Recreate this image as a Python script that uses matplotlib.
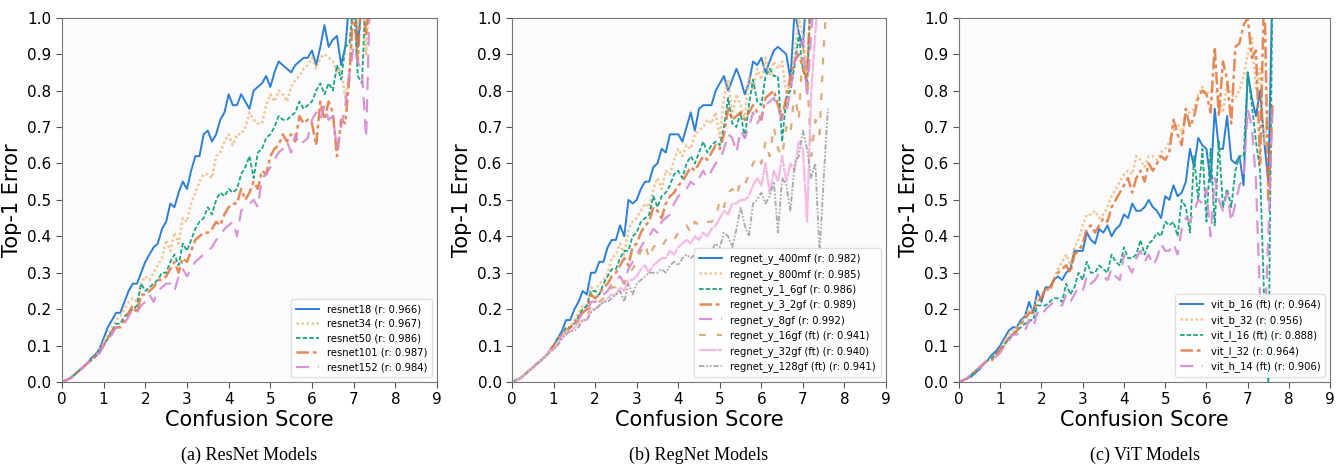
import numpy as np
import matplotlib.pyplot as plt

# confusion score bins (0.0, 0.1, ... 7.6)
score_bins = np.round(np.arange(0, 77) * 0.1, 1)

head = [0.0, 0.005, 0.01, 0.02, 0.03, 0.04, 0.05, 0.06, 0.07, 0.085]

# ---- (a) ResNet ----
resnet18 = head[:7] + [0.065, 0.075, 0.09,
    0.12, 0.15, 0.17, 0.19, 0.19, 0.22, 0.25, 0.27, 0.27, 0.30,
    0.33, 0.35, 0.37, 0.38, 0.42, 0.44, 0.49, 0.48, 0.52, 0.55,
    0.53, 0.58, 0.62, 0.62, 0.68, 0.69, 0.66, 0.68, 0.72, 0.74,
    0.79, 0.76, 0.76, 0.79, 0.77, 0.75, 0.80, 0.81, 0.82, 0.84,
    0.81, 0.85, 0.88, 0.87, 0.86, 0.85, 0.87, 0.88, 0.89, 0.89,
    0.91, 0.87, 0.92, 0.98, 0.92, 0.94, 0.95, 0.87, 0.92, 1.05,
    1.10, 0.92, 1.05, 1.10]
resnet34 = head + [
    0.11, 0.13, 0.15, 0.17, 0.18, 0.20, 0.22, 0.23, 0.22, 0.27,
    0.29, 0.28, 0.30, 0.32, 0.34, 0.39, 0.36, 0.41, 0.38, 0.45,
    0.44, 0.49, 0.52, 0.55, 0.57, 0.57, 0.56, 0.62, 0.63, 0.66,
    0.68, 0.65, 0.68, 0.68, 0.70, 0.74, 0.72, 0.71, 0.71, 0.76,
    0.79, 0.77, 0.80, 0.79, 0.77, 0.81, 0.83, 0.84, 0.86, 0.87,
    0.89, 0.86, 0.89, 0.90, 0.89, 0.88, 0.85, 0.86, 0.78, 0.85,
    1.05, 0.97, 1.10, 0.90, 1.10]
resnet50 = head + [
    0.10, 0.12, 0.14, 0.16, 0.16, 0.18, 0.19, 0.20, 0.21, 0.27,
    0.25, 0.26, 0.27, 0.28, 0.30, 0.30, 0.33, 0.35, 0.32, 0.38,
    0.36, 0.39, 0.42, 0.44, 0.45, 0.48, 0.46, 0.50, 0.52, 0.51,
    0.53, 0.52, 0.53, 0.57, 0.59, 0.62, 0.56, 0.63, 0.64, 0.67,
    0.68, 0.70, 0.73, 0.72, 0.72, 0.73, 0.74, 0.77, 0.75, 0.76,
    0.77, 0.80, 0.82, 0.79, 0.82, 0.80, 0.87, 0.83, 0.92, 0.93,
    1.05, 0.84, 0.82, 1.10]
resnet101 = head[:9] + [0.08,
    0.10, 0.12, 0.14, 0.15, 0.15, 0.17, 0.19, 0.21, 0.19, 0.24,
    0.24, 0.25, 0.26, 0.28, 0.28, 0.29, 0.31, 0.33, 0.30, 0.34,
    0.33, 0.36, 0.39, 0.40, 0.41, 0.41, 0.42, 0.44, 0.43, 0.46,
    0.48, 0.49, 0.49, 0.53, 0.50, 0.52, 0.55, 0.53, 0.58, 0.57,
    0.62, 0.64, 0.65, 0.68, 0.66, 0.68, 0.66, 0.73, 0.71, 0.72,
    0.71, 0.65, 0.77, 0.72, 0.77, 0.74, 0.62, 0.72, 0.71, 0.84,
    1.05, 0.88, 1.10, 0.95, 1.10]
resnet152 = head[:9] + [0.08,
    0.10, 0.12, 0.13, 0.15, 0.15, 0.16, 0.18, 0.20, 0.19, 0.21,
    0.22, 0.24, 0.22, 0.25, 0.26, 0.27, 0.27, 0.25, 0.29, 0.31,
    0.29, 0.31, 0.33, 0.34, 0.35, 0.36, 0.37, 0.39, 0.40, 0.42,
    0.43, 0.44, 0.40, 0.47, 0.48, 0.49, 0.50, 0.48, 0.56, 0.57,
    0.59, 0.61, 0.63, 0.64, 0.66, 0.63, 0.68, 0.65, 0.66, 0.67,
    0.72, 0.74, 0.72, 0.76, 0.72, 0.73, 0.64, 0.70, 0.76, 0.85,
    0.92, 0.88, 0.85, 0.67, 1.10]

# ---- (b) RegNet ----
regnet_400mf = head + [
    0.10, 0.12, 0.14, 0.17, 0.17, 0.20, 0.22, 0.25, 0.24, 0.30,
    0.30, 0.33, 0.33, 0.37, 0.39, 0.39, 0.43, 0.40, 0.50, 0.49,
    0.50, 0.53, 0.55, 0.55, 0.59, 0.60, 0.64, 0.63, 0.68, 0.68,
    0.68, 0.66, 0.70, 0.74, 0.69, 0.75, 0.76, 0.76, 0.76, 0.80,
    0.82, 0.84, 0.80, 0.83, 0.86, 0.83, 0.79, 0.82, 0.88, 0.87,
    0.89, 0.85, 0.88, 0.91, 0.92, 0.91, 0.90, 0.83, 1.02, 0.96,
    0.92, 1.10, 1.10]
regnet_800mf = head + [
    0.10, 0.12, 0.13, 0.15, 0.15, 0.17, 0.19, 0.21, 0.20, 0.26,
    0.25, 0.27, 0.28, 0.30, 0.34, 0.35, 0.38, 0.35, 0.42, 0.44,
    0.45, 0.47, 0.49, 0.48, 0.53, 0.56, 0.53, 0.58, 0.57, 0.61,
    0.64, 0.62, 0.65, 0.64, 0.68, 0.69, 0.70, 0.72, 0.71, 0.74,
    0.67, 0.78, 0.83, 0.73, 0.79, 0.76, 0.72, 0.84, 0.80, 0.86,
    0.83, 0.89, 0.84, 0.88, 0.86, 0.88, 0.79, 0.82, 0.90, 1.00,
    0.95, 0.85, 1.10, 1.10]
regnet_1_6gf = head + [
    0.10, 0.12, 0.13, 0.15, 0.15, 0.16, 0.18, 0.20, 0.21, 0.25,
    0.25, 0.24, 0.27, 0.29, 0.31, 0.31, 0.34, 0.36, 0.36, 0.40,
    0.41, 0.44, 0.45, 0.46, 0.51, 0.48, 0.51, 0.52, 0.54, 0.57,
    0.58, 0.56, 0.60, 0.62, 0.60, 0.63, 0.66, 0.63, 0.65, 0.66,
    0.65, 0.70, 0.78, 0.71, 0.70, 0.74, 0.67, 0.76, 0.83, 0.77,
    0.76, 0.84, 0.86, 0.84, 0.84, 0.66, 0.78, 0.80, 0.87, 0.95,
    0.86, 0.82, 1.10]
regnet_3_2gf = head + [
    0.10, 0.11, 0.13, 0.14, 0.15, 0.16, 0.18, 0.19, 0.20, 0.24,
    0.23, 0.24, 0.26, 0.27, 0.29, 0.30, 0.32, 0.34, 0.32, 0.37,
    0.38, 0.41, 0.43, 0.44, 0.48, 0.47, 0.45, 0.49, 0.51, 0.52,
    0.54, 0.55, 0.57, 0.59, 0.58, 0.60, 0.62, 0.61, 0.63, 0.65,
    0.64, 0.68, 0.75, 0.72, 0.73, 0.74, 0.72, 0.74, 0.76, 0.74,
    0.72, 0.78, 0.79, 0.80, 0.76, 0.73, 0.78, 0.84, 0.88, 0.90,
    0.86, 0.83, 1.10]
regnet_8gf = head + [
    0.09, 0.11, 0.13, 0.14, 0.14, 0.16, 0.17, 0.19, 0.19, 0.22,
    0.22, 0.23, 0.24, 0.25, 0.27, 0.28, 0.29, 0.27, 0.31, 0.33,
    0.35, 0.37, 0.39, 0.40, 0.42, 0.41, 0.44, 0.45, 0.46, 0.49,
    0.51, 0.52, 0.53, 0.55, 0.54, 0.56, 0.58, 0.56, 0.58, 0.60,
    0.61, 0.64, 0.68, 0.67, 0.63, 0.69, 0.67, 0.70, 0.74, 0.71,
    0.73, 0.76, 0.77, 0.78, 0.75, 0.72, 0.74, 0.80, 0.88, 0.92,
    0.94, 0.78, 0.96, 1.10]
regnet_16gf_ft = head + [
    0.09, 0.11, 0.13, 0.14, 0.14, 0.15, 0.17, 0.18, 0.18, 0.21,
    0.21, 0.22, 0.23, 0.24, 0.26, 0.26, 0.28, 0.27, 0.30, 0.31,
    0.33, 0.36, 0.38, 0.34, 0.37, 0.38, 0.37, 0.39, 0.40, 0.39,
    0.41, 0.42, 0.43, 0.41, 0.44, 0.43, 0.44, 0.44, 0.44, 0.45,
    0.50, 0.48, 0.52, 0.53, 0.51, 0.55, 0.54, 0.57, 0.60, 0.62,
    0.60, 0.66, 0.62, 0.70, 0.64, 0.62, 0.70, 0.68, 0.80, 0.72,
    0.92, 0.85, 0.62, 0.72, 0.68, 0.92, 1.10]
regnet_32gf_ft = head + [
    0.09, 0.11, 0.12, 0.14, 0.14, 0.15, 0.16, 0.17, 0.17, 0.20,
    0.20, 0.21, 0.22, 0.23, 0.24, 0.24, 0.26, 0.25, 0.28, 0.28,
    0.29, 0.31, 0.32, 0.30, 0.32, 0.33, 0.34, 0.34, 0.36, 0.35,
    0.37, 0.38, 0.39, 0.38, 0.40, 0.39, 0.41, 0.40, 0.42, 0.43,
    0.45, 0.47, 0.46, 0.49, 0.49, 0.50, 0.50, 0.51, 0.54, 0.56,
    0.54, 0.60, 0.52, 0.58, 0.55, 0.62, 0.55, 0.60, 0.58, 0.66,
    0.64, 0.44, 0.80, 0.96, 1.10]
regnet_128gf_ft = head[:9] + [0.08,
    0.09, 0.10, 0.12, 0.13, 0.14, 0.14, 0.15, 0.17, 0.17, 0.19,
    0.20, 0.21, 0.22, 0.22, 0.23, 0.24, 0.25, 0.22, 0.27, 0.24,
    0.27, 0.28, 0.29, 0.30, 0.30, 0.30, 0.31, 0.30, 0.32, 0.33,
    0.32, 0.34, 0.35, 0.34, 0.35, 0.36, 0.35, 0.35, 0.36, 0.38,
    0.37, 0.41, 0.40, 0.37, 0.42, 0.48, 0.43, 0.40, 0.49, 0.50,
    0.52, 0.49, 0.51, 0.55, 0.41, 0.56, 0.54, 0.47, 0.60, 0.62,
    0.69, 0.64, 0.56, 0.60, 0.35, 0.56, 0.75]

# ---- (c) ViT ----
vit_b_16_ft = [0.0, 0.005, 0.01, 0.015, 0.025, 0.035, 0.05, 0.06, 0.075, 0.085,
    0.10, 0.12, 0.14, 0.15, 0.15, 0.17, 0.18, 0.22, 0.19, 0.25,
    0.22, 0.26, 0.26, 0.28, 0.29, 0.28, 0.30, 0.31, 0.36, 0.36,
    0.36, 0.41, 0.39, 0.38, 0.42, 0.41, 0.43, 0.40, 0.42, 0.43,
    0.46, 0.45, 0.49, 0.47, 0.47, 0.48, 0.50, 0.48, 0.47, 0.45,
    0.51, 0.50, 0.54, 0.51, 0.52, 0.55, 0.64, 0.59, 0.67, 0.65,
    0.64, 0.55, 0.75, 0.64, 0.64, 0.73, 0.61, 0.60, 0.62, 0.54,
    0.85, 0.78, 0.73, 0.80, 0.66, 0.55, 1.10]
vit_b_32 = head[:8] + [0.065, 0.08,
    0.09, 0.11, 0.13, 0.14, 0.15, 0.16, 0.18, 0.20, 0.20, 0.23,
    0.24, 0.25, 0.26, 0.28, 0.31, 0.33, 0.35, 0.32, 0.37, 0.39,
    0.43, 0.46, 0.46, 0.47, 0.45, 0.46, 0.48, 0.51, 0.53, 0.55,
    0.57, 0.58, 0.57, 0.62, 0.61, 0.59, 0.62, 0.62, 0.61, 0.63,
    0.64, 0.66, 0.69, 0.71, 0.68, 0.74, 0.74, 0.75, 0.79, 0.81,
    0.79, 0.80, 0.80, 0.79, 0.74, 0.82, 0.79, 0.78, 0.80, 0.84,
    0.90, 0.95, 0.80, 0.86, 0.65, 0.75]
vit_l_16_ft = head[:8] + [0.065, 0.08,
    0.09, 0.10, 0.12, 0.13, 0.14, 0.15, 0.16, 0.17, 0.17, 0.21,
    0.21, 0.21, 0.22, 0.23, 0.23, 0.22, 0.27, 0.24, 0.26, 0.30,
    0.28, 0.33, 0.30, 0.30, 0.32, 0.31, 0.30, 0.35, 0.33, 0.32,
    0.37, 0.34, 0.34, 0.35, 0.39, 0.35, 0.38, 0.39, 0.41, 0.40,
    0.44, 0.43, 0.44, 0.40, 0.50, 0.48, 0.41, 0.62, 0.50, 0.64,
    0.44, 0.64, 0.43, 0.66, 0.48, 0.53, 0.48, 0.58, 0.62, 0.62,
    0.85, 0.76, 0.66, 0.58, 0.22, 0.0, 1.10]
vit_l_32 = head[:8] + [0.06, 0.075,
    0.09, 0.10, 0.12, 0.13, 0.14, 0.16, 0.17, 0.19, 0.19, 0.22,
    0.23, 0.26, 0.25, 0.28, 0.30, 0.31, 0.32, 0.30, 0.35, 0.36,
    0.38, 0.42, 0.43, 0.41, 0.43, 0.45, 0.44, 0.48, 0.50, 0.52,
    0.54, 0.56, 0.52, 0.56, 0.58, 0.55, 0.60, 0.58, 0.60, 0.62,
    0.61, 0.63, 0.72, 0.68, 0.65, 0.75, 0.70, 0.73, 0.78, 0.80,
    0.79, 0.74, 0.92, 0.73, 0.88, 0.83, 0.71, 0.92, 0.93, 0.98,
    1.00, 0.89, 0.91, 0.60, 1.10, 0.50, 0.76]
vit_h_14_ft = head[:8] + [0.06, 0.07,
    0.08, 0.10, 0.11, 0.13, 0.13, 0.14, 0.14, 0.17, 0.15, 0.19,
    0.18, 0.20, 0.21, 0.22, 0.21, 0.21, 0.24, 0.22, 0.24, 0.26,
    0.25, 0.29, 0.27, 0.28, 0.30, 0.29, 0.28, 0.31, 0.29, 0.28,
    0.35, 0.32, 0.30, 0.34, 0.36, 0.33, 0.35, 0.32, 0.34, 0.38,
    0.36, 0.36, 0.38, 0.35, 0.42, 0.45, 0.44, 0.47, 0.50, 0.49,
    0.53, 0.40, 0.56, 0.50, 0.47, 0.52, 0.44, 0.49, 0.54, 0.56,
    0.75, 0.70, 0.55, 0.22, 0.12, 0.40, 0.75]

resnet_labels = ["resnet18 (r: 0.966)", "resnet34 (r: 0.967)", "resnet50 (r: 0.986)",
                 "resnet101 (r: 0.987)", "resnet152 (r: 0.984)"]
regnet_labels = ["regnet_y_400mf (r: 0.982)", "regnet_y_800mf (r: 0.985)",
                 "regnet_y_1_6gf (r: 0.986)", "regnet_y_3_2gf (r: 0.989)",
                 "regnet_y_8gf (r: 0.992)", "regnet_y_16gf (ft) (r: 0.941)",
                 "regnet_y_32gf (ft) (r: 0.940)", "regnet_y_128gf (ft) (r: 0.941)"]
vit_labels = ["vit_b_16 (ft) (r: 0.964)", "vit_b_32 (r: 0.956)", "vit_l_16 (ft) (r: 0.888)",
              "vit_l_32 (r: 0.964)", "vit_h_14 (ft) (r: 0.906)"]
captions = ["(a) ResNet Models", "(b) RegNet Models", "(c) ViT Models"]

# colour / dash per series slot
styles = [
    ("#2c7fd2", (None, None), 1.4, 1.0),
    ("#f0b978", (1, 1), 1.8, 0.8),
    ("#1aa584", (2.5, 1.2), 1.3, 1.0),
    ("#e0763a", (5, 1.5, 1.5, 1.5), 1.8, 0.85),
    ("#d58ad0", (6, 4), 1.6, 0.9),
    ("#d9a36a", (3, 5), 1.6, 0.9),
    ("#f5b3de", (8, 0.5), 1.6, 0.9),
    ("#a0a0a0", (3, 1, 1, 1, 1, 1), 1.3, 0.9),
]

fig = plt.figure(figsize=(13.38, 4.67), dpi=100)
lefts = [0.0463, 0.3827, 0.7167]
widths = [0.2803, 0.2795, 0.2775]
panels = [
    ([resnet18, resnet34, resnet50, resnet101, resnet152], resnet_labels),
    ([regnet_400mf, regnet_800mf, regnet_1_6gf, regnet_3_2gf, regnet_8gf,
      regnet_16gf_ft, regnet_32gf_ft, regnet_128gf_ft], regnet_labels),
    ([vit_b_16_ft, vit_b_32, vit_l_16_ft, vit_l_32, vit_h_14_ft], vit_labels),
]

for i, (series, labels) in enumerate(panels):
    ax = fig.add_axes([lefts[i], 0.182, widths[i], 0.78])
    ax.set_facecolor("#fbfbfd")
    for j, (ys, lab) in enumerate(zip(series, labels)):
        color, dash, lw, alpha = styles[j]
        xs = score_bins[:len(ys)]
        line, = ax.plot(xs, ys, color=color, lw=lw, alpha=alpha, label=lab)
        if dash[0] is not None:
            line.set_dashes(dash)
    ax.set_xlim(0, 9)
    ax.set_ylim(0, 1.0)
    ax.set_xticks(range(10))
    ax.set_yticks(np.round(np.arange(0, 11) * 0.1, 1))
    ax.set_yticklabels([f"{v:.1f}" for v in np.arange(0, 11) * 0.1])
    ax.tick_params(labelsize=11, color="#555555", length=4)
    for sp in ax.spines.values():
        sp.set_color("#777777")
    ax.set_xlabel("Confusion Score", fontsize=15, labelpad=2)
    ax.set_ylabel("Top-1 Error", fontsize=15, labelpad=4)
    ax.legend(loc="lower right", fontsize=7.2, handlelength=2.3, labelspacing=0.45,
              borderpad=0.5, framealpha=0.9, edgecolor="#dddddd")
    fig.text(lefts[i] + widths[i] / 2, 0.026, captions[i], ha="center", va="center",
             fontsize=13, family="Liberation Serif")

fig.savefig("out.png", dpi=100)
